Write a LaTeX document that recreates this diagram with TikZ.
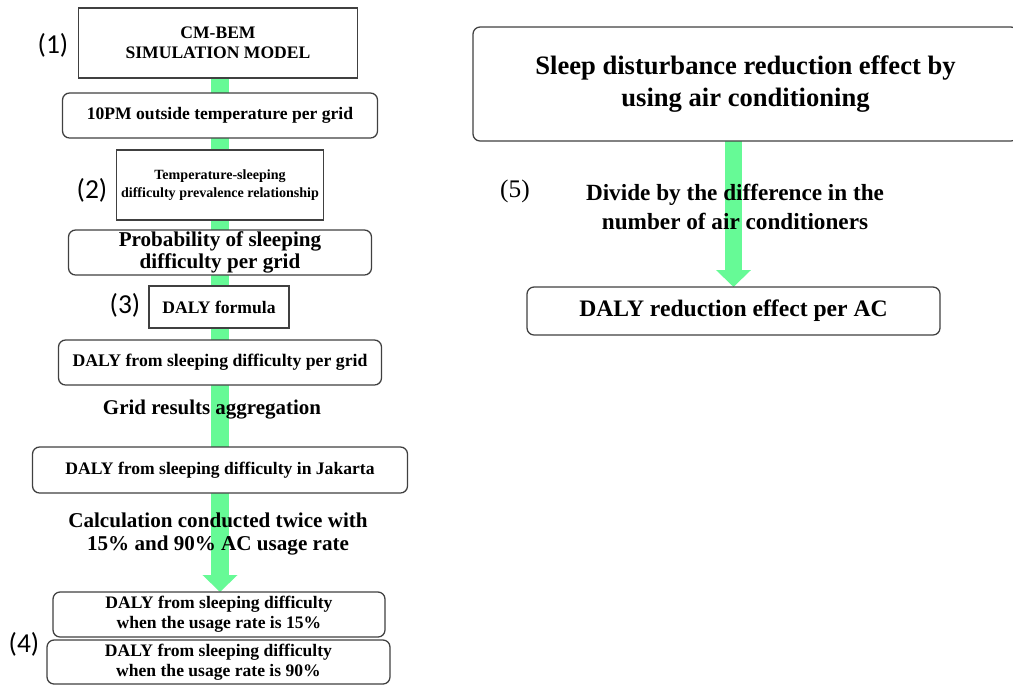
\documentclass[tikz,border=0pt]{standalone}
\usepackage{fontspec}
\setmainfont{Liberation Serif}
\newfontfamily\labelfont{Carlito}
\usetikzlibrary{arrows.meta}
\definecolor{flowgreen}{RGB}{102,250,150}
\newcommand\fsz[2]{\fontsize{#1}{#2}\selectfont}

\begin{document}
\begin{tikzpicture}[x=0.025cm,y=-0.025cm]

    % Define some common styles
    \tikzset{
        box/.style={draw=black!75, line width=0.9pt, fill=white, align=center, inner sep=0pt, font=\bfseries},
        roundbox/.style={box, rounded corners=5pt},
        flow/.style={draw=flowgreen, line width=12.5pt, -{Triangle[width=24pt,length=12pt]}},
        steplabel/.style={font=\labelfont\fsz{19.5}{22}},
        note/.style={align=center, font=\bfseries}
    }

    % Page size
    \useasboundingbox (0,0) rectangle (1013,686);
    \clip (0,0) rectangle (1013,686);

    % Left column: boxes
    \coordinate (cmbempos) at (218,43);
    \coordinate (temppos) at (220,115.5);
    \coordinate (relpos) at (220,185);
    \coordinate (probpos) at (220,252.5);
    \coordinate (formulapos) at (219,307);
    \coordinate (gridpos) at (220,362.5);
    \coordinate (jakartapos) at (220,470);
    \coordinate (lowpos) at (219,614.5);
    \coordinate (highpos) at (218.5,662);

    % Right column: boxes
    \coordinate (sleeppos) at (745.5,84);
    \coordinate (perACpos) at (733.5,311);

    % Green flow arrows (behind the boxes)
    \path (cmbempos) ++(0,35) coordinate (cmbemS);
    \path (lowpos) ++(0,-22.5) coordinate (lowN);
    \draw[flow] (cmbemS -| temppos) -- (lowN -| temppos);
    \path (sleeppos) ++(0,57) coordinate (sleepS);
    \path (perACpos) ++(0,-24) coordinate (perACN);
    \draw[flow] (sleepS -| perACpos) -- (perACN);

    % Boxes
    \node[box, minimum width=279*0.025cm, minimum height=70*0.025cm, font=\bfseries\fsz{12.5}{14.5}] (cmbem) at (cmbempos) {CM-BEM\\SIMULATION MODEL};
    \node[roundbox, minimum width=315*0.025cm, minimum height=45*0.025cm, font=\bfseries\fsz{12.5}{14}] (temp) at (temppos) {10PM outside temperature per grid};
    \node[box, minimum width=207*0.025cm, minimum height=70*0.025cm, font=\bfseries\fsz{10}{12.5}] (rel) at (relpos) {Temperature-sleeping\\difficulty prevalence relationship};
    \node[roundbox, minimum width=303*0.025cm, minimum height=45*0.025cm, font=\bfseries\fsz{15}{15.5}] (prob) at (probpos) {Probability of sleeping\\ difficulty per grid};
    \node[box, minimum width=140*0.025cm, minimum height=42*0.025cm, font=\bfseries\fsz{12.5}{14}] (formula) at (formulapos) {DALY formula};
    \node[roundbox, minimum width=323*0.025cm, minimum height=45*0.025cm, font=\bfseries\fsz{12.6}{14}] (grid) at (gridpos) {DALY from sleeping difficulty per grid};
    \node[roundbox, minimum width=375*0.025cm, minimum height=46*0.025cm, font=\bfseries\fsz{12.5}{14}] (jakarta) at (jakartapos) {DALY from sleeping difficulty in Jakarta};
    \node[roundbox, minimum width=332*0.025cm, minimum height=45*0.025cm, font=\bfseries\fsz{12.5}{14}] (low) at (lowpos) {DALY from sleeping difficulty\\when the usage rate is 15\%};
    \node[roundbox, minimum width=343*0.025cm, minimum height=44*0.025cm, font=\bfseries\fsz{12.5}{14}] (high) at (highpos) {DALY from sleeping difficulty\\when the usage rate is 90\%};
    \node[roundbox, minimum width=545*0.025cm, minimum height=114*0.025cm, font=\bfseries\fsz{18.9}{23}] (sleep) at (sleeppos) {Sleep disturbance reduction effect by\\using air conditioning};
    \node[roundbox, minimum width=413*0.025cm, minimum height=48*0.025cm, font=\bfseries\fsz{16.8}{18}] (perAC) at (perACpos) {DALY reduction effect per AC};

    % Texts on the arrows
    \node[note, font=\bfseries\fsz{14.9}{16}] (aggregate) at (212,410) {Grid results aggregation};
    \node[note, font=\bfseries\fsz{15}{16.3}] (twice) at (218,534) {Calculation conducted twice with\\15\% and 90\% AC usage rate};
    \node[note, font=\bfseries\fsz{16.5}{20}] (divide) at (735,207) {Divide by the difference in the\\number of air conditioners};

    % Step labels
    \node[steplabel] (lab1) at (53,45) {(1)};
    \node[steplabel] (lab2) at (92,190) {(2)};
    \node[steplabel] (lab3) at (125,305) {(3)};
    \node[steplabel] (lab4) at (24,644) {(4)};
    \node[font=\fsz{18}{20}] (lab5) at (515,191) {(5)};

\end{tikzpicture}
\end{document}
